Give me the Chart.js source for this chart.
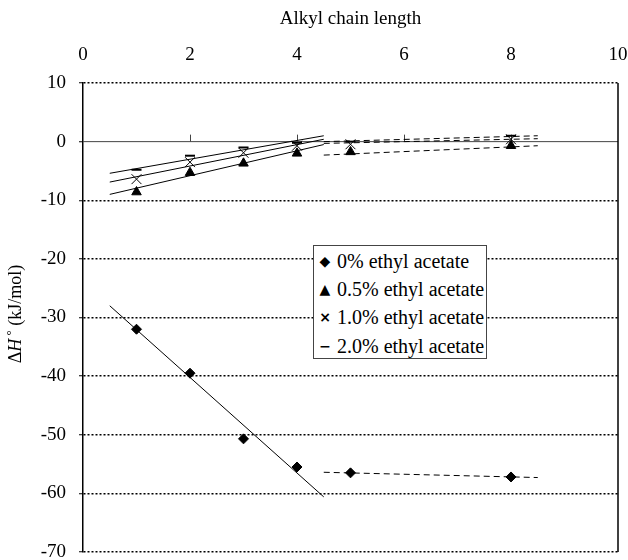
<!DOCTYPE html>
<html>
<head>
<meta charset="utf-8">
<script src="https://cdn.jsdelivr.net/npm/chart.js@4/dist/chart.umd.min.js"></script>
<style>
  body { margin: 0; background: #fff; }
  #wrap { position: relative; width: 628px; height: 560px; }
  #legend {
    position: absolute; left: 313px; top: 245px; width: 174px; height: 114px;
    border: 1px solid #444; background: #fff;
    font: 20px "Liberation Serif", "DejaVu Serif", serif; color: #000;
    padding: 1px 0 0 4px; box-sizing: border-box; white-space: nowrap;
  }
  #legend .row { height: 28.2px; line-height: 28px; }
  #legend .m {
    display: inline-block; width: 14px; text-align: center; vertical-align: top;
    font: bold 14px "DejaVu Sans", sans-serif; line-height: 28px;
  }
</style>
</head>
<body>
<div id="wrap">
  <canvas id="chart"></canvas>
  <div id="legend"></div>
</div>
<script>
// values
const chainLength = [1, 2, 3, 4, 5, 8];
const dh0 = [-32.0, -39.5, -50.7, -55.5, -56.5, -57.2];
const dh05 = [-8.6, -5.3, -3.7, -2.0, -1.75, -0.7];
const dh10 = [-6.4, -3.5, -1.9, -0.7, -0.45, 0.4];
const dh20 = [-4.8, -2.4, -1.0, -0.2, 0.0, 1.0];

// fitted lines: solid for short chains, dashed for long ones
const fitX = [0.5, 4.5];
const fit0 = [-28.0, -60.6];
const fit05 = [-9.0, -0.5];
const fit10 = [-6.9, 0.4];
const fit20 = [-5.4, 1.0];
const longX = [4.5, 8.5];
const long0 = [-56.4, -57.3];
const long05 = [-2.3, -0.7];
const long10 = [-0.3, 0.5];
const long20 = [0.0, 1.0];

const seriesNames = ["0% ethyl acetate", "0.5% ethyl acetate", "1.0% ethyl acetate", "2.0% ethyl acetate"];
const legendMarks = ["\u25C6", "\u25B2", "\u00D7", "\u2212"];
const xTicks = [0, 2, 4, 6, 8, 10];
const yTicks = [10, 0, -10, -20, -30, -40, -50, -60, -70];
const zeroTicks = [2, 4, 6, 8];

const serif = '"Liberation Serif", "DejaVu Serif", serif';
const pts = (xs, ys) => xs.map((x, i) => ({ x: x, y: ys[i] }));

const markerSet = (label, ys, style, r, bw) => ({
  label: label,
  data: pts(chainLength, ys),
  showLine: false,
  pointStyle: style,
  pointRadius: r,
  pointBorderWidth: bw,
  backgroundColor: "#000",
  borderColor: "#000"
});
const lineSet = (xs, ys, dash) => ({
  data: pts(xs, ys),
  showLine: true,
  pointRadius: 0,
  borderColor: "#000",
  borderWidth: 1,
  borderDash: dash
});

const datasets = [
  markerSet(seriesNames[0], dh0, "rectRot", 5, 1),
  markerSet(seriesNames[1], dh05, "triangle", 5.5, 1),
  markerSet(seriesNames[2], dh10, "crossRot", 7, 1),
  markerSet(seriesNames[3], dh20, "line", 5, 2),
  lineSet(fitX, fit0, []),
  lineSet(fitX, fit05, []),
  lineSet(fitX, fit10, []),
  lineSet(fitX, fit20, []),
  lineSet(longX, long0, [6, 4]),
  lineSet(longX, long05, [6, 4]),
  lineSet(longX, long10, [6, 4]),
  lineSet(longX, long20, [6, 4])
];

// zero line with its small ticks, right frame and the y title
const framePlugin = {
  id: "frame",
  beforeDatasetsDraw(chart) {
    const { ctx, chartArea: a, scales: { x, y } } = chart;
    const y0 = y.getPixelForValue(0);
    ctx.save();
    ctx.strokeStyle = "#444";
    ctx.lineWidth = 1;
    ctx.beginPath();
    ctx.moveTo(a.left, y0);
    ctx.lineTo(a.right, y0);
    zeroTicks.forEach(v => {
      const px = Math.round(x.getPixelForValue(v)) + 0.5;
      ctx.moveTo(px, y0);
      ctx.lineTo(px, y0 - 7);
    });
    ctx.stroke();
    ctx.strokeStyle = "#000";
    ctx.lineWidth = 1.5;
    ctx.beginPath();
    ctx.moveTo(a.right, a.top);
    ctx.lineTo(a.right, a.bottom);
    ctx.stroke();
    ctx.restore();
  },
  afterDraw(chart) {
    const { ctx } = chart;
    const parts = [
      ["\u0394", "18px " + serif, 0],
      ["H", "italic 18px " + serif, 0],
      [" \u00B0", "13px " + serif, -4],
      [" (kJ/mol)", "18px " + serif, 0]
    ];
    ctx.save();
    ctx.translate(16, 314);
    ctx.rotate(-Math.PI / 2);
    ctx.fillStyle = "#000";
    ctx.textBaseline = "middle";
    let total = 0;
    parts.forEach(p => { ctx.font = p[1]; total += ctx.measureText(p[0]).width; });
    let cx = -total / 2;
    parts.forEach(p => {
      ctx.font = p[1];
      ctx.fillText(p[0], cx, p[2]);
      cx += ctx.measureText(p[0]).width;
    });
    ctx.restore();
  }
};

function drawChart() {
  new Chart(document.getElementById("chart"), {
    type: "scatter",
    data: { datasets: datasets },
    options: {
      responsive: true,
      maintainAspectRatio: false,
      animation: false,
      layout: { padding: { left: 0, right: 10, top: 0, bottom: 8 } },
      plugins: { legend: { display: false }, tooltip: { enabled: false } },
      scales: {
        x: {
          type: "linear",
          position: "top",
          min: 0,
          max: 10,
          afterBuildTicks: s => { s.ticks = xTicks.map(v => ({ value: v })); },
          afterFit: s => { s.height = 83; s.paddingLeft = 0; s.paddingRight = 0; },
          grid: { display: false, drawTicks: false },
          border: { display: false },
          ticks: { color: "#000", padding: 17, maxRotation: 0, font: { family: serif, size: 19 } },
          title: { display: true, text: "Alkyl chain length", color: "#000", padding: { top: 8, bottom: 0 }, font: { family: serif, size: 19 } }
        },
        y: {
          type: "linear",
          min: -70,
          max: 10,
          afterBuildTicks: s => { s.ticks = yTicks.map(v => ({ value: v })); },
          afterFit: s => { s.width = 83; s.paddingTop = 0; s.paddingBottom = 0; },
          grid: {
            color: c => (c.tick && c.tick.value === 0 ? "rgba(0,0,0,0)" : "#000"),
            lineWidth: 1.5,
            tickColor: "#000",
            tickLength: 4,
            tickWidth: 1
          },
          border: { display: true, color: "#000", width: 1.5, dash: [2, 2] },
          ticks: { color: "#000", padding: 13, font: { family: serif, size: 19 } }
        }
      }
    },
    plugins: [framePlugin]
  });
}

document.getElementById("legend").innerHTML = seriesNames
  .map((n, i) => '<div class="row"><span class="m">' + legendMarks[i] + "</span> " + n + "</div>")
  .join("");

Promise.all([
  document.fonts.load('19px "Liberation Serif"'),
  document.fonts.load('italic 18px "Liberation Serif"')
]).then(drawChart, drawChart);
</script>
</body>
</html>
